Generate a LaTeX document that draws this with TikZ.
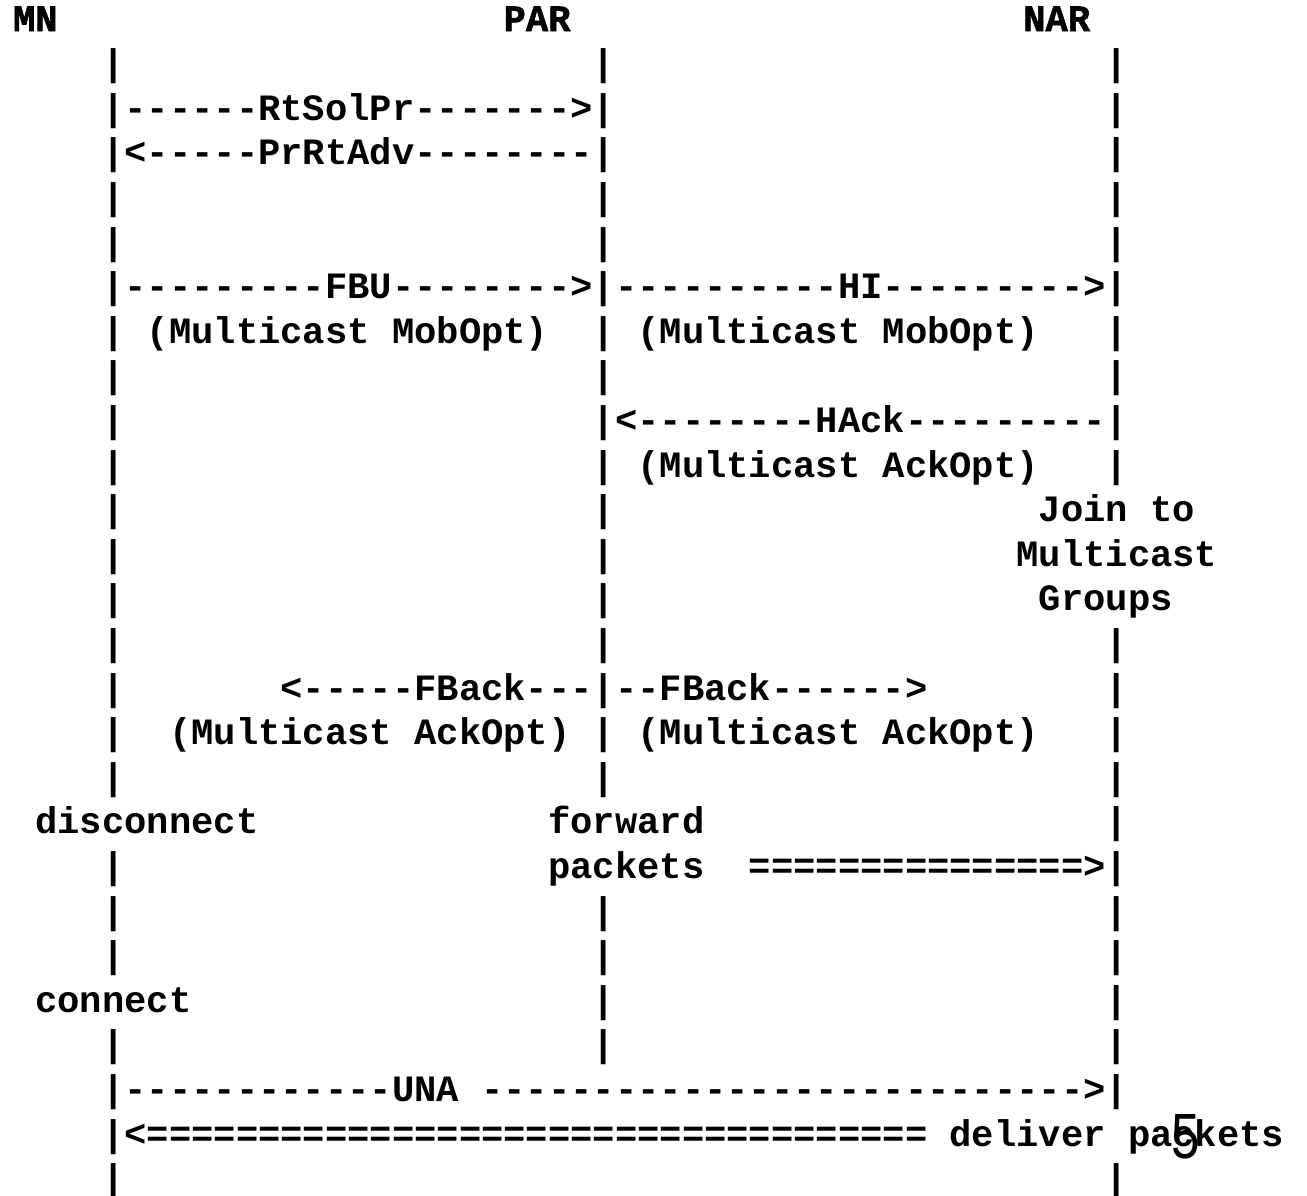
\documentclass[tikz,border=0pt]{standalone}
\usepackage{fontspec}
\setmonofont{Liberation Mono}
\newfontfamily\hdrfont{Liberation Mono Bold}[FakeBold=1.5]
\newfontfamily\digitfont{Liberation Sans}
\tikzset{
  asc/.style={anchor=base west, inner sep=0pt, outer sep=0pt,
    font=\ttfamily\bfseries\fontsize{37.17bp}{44bp}\selectfont},
  hdr/.style={anchor=base west, inner sep=0pt, outer sep=0pt,
    font=\hdrfont\fontsize{37.17bp}{44bp}\selectfont},
}
\newcommand\asctxt[4]{\node[asc] (#1) at ({13+22.3*(#2)},{31+44.6*(#3)}) {#4};}
\begin{document}
\begin{tikzpicture}[x=1bp,y=-1bp]
\useasboundingbox (0,0) rectangle (1307,1195);
% header
\node[hdr] (mn) at (13,31) {MN};
\node[hdr] (par) at ({13+22.3*22},31) {PAR};
\node[hdr] (nar) at ({13+22.3*45.3},31) {NAR};
% row 1
\asctxt{a1}{4}{1}{|}\asctxt{b1}{26}{1}{|}\asctxt{c1}{49}{1}{|}
% row 2-3
\asctxt{r2}{4}{2}{|------RtSolPr------->|}\asctxt{c2}{49}{2}{|}
\asctxt{r3}{4}{3}{|<-----PrRtAdv--------|}\asctxt{c3}{49}{3}{|}
% row 4-5
\asctxt{a4}{4}{4}{|}\asctxt{b4}{26}{4}{|}\asctxt{c4}{49}{4}{|}
\asctxt{a5}{4}{5}{|}\asctxt{b5}{26}{5}{|}\asctxt{c5}{49}{5}{|}
% row 6-7
\asctxt{r6}{4}{6}{|---------FBU-------->|----------HI--------->|}
\asctxt{a7}{4}{7}{|}\asctxt{l7}{6}{7}{(Multicast MobOpt)}\asctxt{b7}{26}{7}{|}\asctxt{m7}{28}{7}{(Multicast MobOpt)}\asctxt{c7}{49}{7}{|}
% row 8
\asctxt{a8}{4}{8}{|}\asctxt{b8}{26}{8}{|}\asctxt{c8}{49}{8}{|}
% row 9-10
\asctxt{a9}{4}{9}{|}\asctxt{r9}{26}{9}{|<--------HAck---------|}
\asctxt{a10}{4}{10}{|}\asctxt{b10}{26}{10}{|}\asctxt{m10}{28}{10}{(Multicast AckOpt)}\asctxt{c10}{49}{10}{|}
% row 11-13
\asctxt{a11}{4}{11}{|}\asctxt{b11}{26}{11}{|}\asctxt{j11}{46}{11}{Join to}
\asctxt{a12}{4}{12}{|}\asctxt{b12}{26}{12}{|}\asctxt{j12}{45}{12}{Multicast}
\asctxt{a13}{4}{13}{|}\asctxt{b13}{26}{13}{|}\asctxt{j13}{46}{13}{Groups}
% row 14
\asctxt{a14}{4}{14}{|}\asctxt{b14}{26}{14}{|}\asctxt{c14}{49}{14}{|}
% row 15-16
\asctxt{a15}{4}{15}{|}\asctxt{r15}{12}{15}{<-----FBack---|--FBack------>}\asctxt{c15}{49}{15}{|}
\asctxt{a16}{4}{16}{|}\asctxt{l16}{7}{16}{(Multicast AckOpt)}\asctxt{b16}{26}{16}{|}\asctxt{m16}{28}{16}{(Multicast AckOpt)}\asctxt{c16}{49}{16}{|}
% row 17
\asctxt{a17}{4}{17}{|}\asctxt{b17}{26}{17}{|}\asctxt{c17}{49}{17}{|}
% row 18-19
\asctxt{d18}{1}{18}{disconnect}\asctxt{f18}{24}{18}{forward}\asctxt{c18}{49}{18}{|}
\asctxt{a19}{4}{19}{|}\asctxt{f19}{24}{19}{packets}\asctxt{e19}{33}{19}{===============>|}
% row 20-21
\asctxt{a20}{4}{20}{|}\asctxt{b20}{26}{20}{|}\asctxt{c20}{49}{20}{|}
\asctxt{a21}{4}{21}{|}\asctxt{b21}{26}{21}{|}\asctxt{c21}{49}{21}{|}
% row 22-23
\asctxt{k22}{1}{22}{connect}\asctxt{b22}{26}{22}{|}\asctxt{c22}{49}{22}{|}
\asctxt{a23}{4}{23}{|}\asctxt{b23}{26}{23}{|}\asctxt{c23}{49}{23}{|}
% row 24-26
\asctxt{u24}{4}{24}{|------------UNA}\asctxt{v24}{21}{24}{--------------------------->|}
\asctxt{w25}{4}{25}{|<===================================}\asctxt{dl25}{42}{25}{deliver}\asctxt{pk25}{50}{25}{packets}
\asctxt{a26}{4}{26}{|}\asctxt{c26}{49}{26}{|}
% page number artefact
\node[anchor=base, inner sep=0pt, font=\digitfont\fontsize{64bp}{64bp}\selectfont, xscale=0.8] (pg) at (1186,1158) {5};
\end{tikzpicture}
\end{document}
